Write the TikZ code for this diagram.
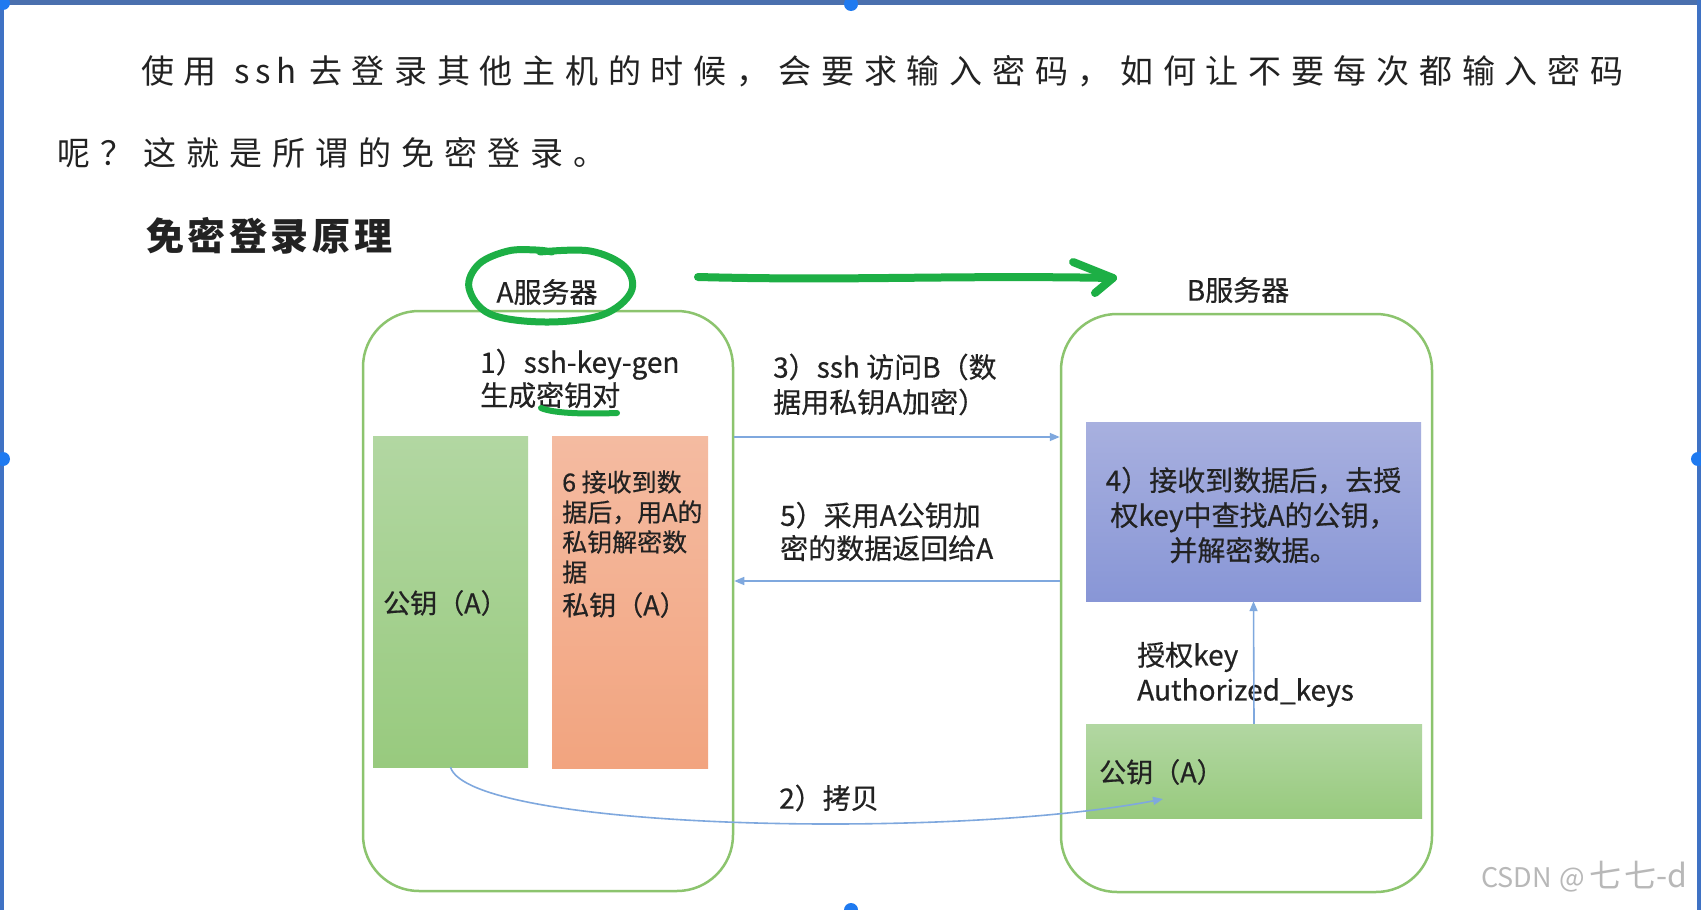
\documentclass[tikz,border=0pt]{standalone}
\usepackage{fontspec}
\setmainfont{Noto Sans CJK SC}
\newfontfamily\diagfont[FakeBold=0.5]{Noto Sans CJK SC}
\usetikzlibrary{arrows.meta}
\ExplSyntaxOn
\NewDocumentCommand\spreadchars{mm}{\tl_map_inline:nn {#2} {\makebox[#1][l]{##1}}}
\ExplSyntaxOff
\definecolor{boxgreen}{HTML}{8CC46E}
\definecolor{pengreen}{HTML}{1DAF45}
\definecolor{arrblue}{HTML}{7FA8DE}
\definecolor{gtop}{HTML}{B2D7A2}
\definecolor{gbot}{HTML}{98CA7E}
\definecolor{otop}{HTML}{F4BBA1}
\definecolor{obot}{HTML}{F2A47F}
\definecolor{btop}{HTML}{A8B0DF}
\definecolor{bbot}{HTML}{8896D6}
\definecolor{framedark}{HTML}{4A70AE}
\definecolor{frameblue}{HTML}{3F72C4}
\definecolor{handleblue}{HTML}{1F7AF0}
\definecolor{ink}{HTML}{222222}
\begin{document}
\begin{tikzpicture}[x=1pt,y=-1pt,
  server/.style={draw=boxgreen, line width=2.5pt, rounded corners=56pt, inner sep=0pt},
  keybox/.style={inner sep=0pt, shading=axis},
  lbl/.style={inner sep=0pt, text=ink, font=\diagfont\fontsize{28}{33}\selectfont, align=left},
  toptext/.style={inner sep=0pt, text=ink, anchor=west, font=\fontsize{33}{33}\selectfont},
  msg/.style={draw=arrblue, line width=1.6pt, -{Triangle[length=10pt,width=8pt]}},
  pen/.style={draw=pengreen, line width=8pt, line cap=round, line join=round},
  handle/.style={fill=handleblue}]
\path[use as bounding box, fill=white] (0,0) rectangle (1701,910);

% screenshot frame
\draw[framedark, line width=5pt] (0,2.5) -- (1701,2.5);
\draw[frameblue, line width=4pt] (2,0) -- (2,910);
\draw[frameblue, line width=4pt] (1699,0) -- (1699,910);
\fill[handle] (3,3) circle (7pt);
\fill[handle] (851,4) circle (7pt);
\fill[handle] (3,459) circle (7pt);
\fill[handle] (1698,459) circle (7pt);
\fill[handle] (851,910) circle (7pt);

% top paragraph
\node[toptext] (t1a) at (141,71) {\spreadchars{42.7pt}{使用}};
\node[toptext] (t1b) at (234,71) {\spreadchars{21pt}{ssh}};
\node[toptext] (t1c) at (309,71) {\spreadchars{42.7pt}{去登录其他主机的时候，会要求输入密码，如何让不要每次都输入密码}};
\node[toptext] (t2) at (57,153) {\spreadchars{43pt}{呢？这就是所谓的免密登录。}};
\node[toptext, font=\fontsize{38}{38}\selectfont\bfseries] (head) at (146,236) {\spreadchars{41.6pt}{免密登录原理}};

% servers
\node[server, minimum width=370pt, minimum height=580pt] (leftbox) at (548,601) {};
\node[server, minimum width=371pt, minimum height=578pt] (rightbox) at (1246.5,603) {};
\node[lbl] (labA) at (547,292) {A服务器};
\node[lbl] (labB) at (1238,290) {B服务器};

% key boxes
\node[keybox, top color=gtop, bottom color=gbot, minimum width=155pt, minimum height=331pt] (pubA) at (450.5,601.5) {};
\node[keybox, top color=otop, bottom color=obot, minimum width=156pt, minimum height=332pt] (privA) at (630,602) {};
\node[keybox, top color=btop, bottom color=bbot, minimum width=335pt, minimum height=179pt] (blue) at (1253.5,511.5) {};
\node[keybox, top color=gtop, bottom color=gbot, minimum width=336pt, minimum height=94pt] (pubB) at (1254,771) {};

% texts
\node[lbl, anchor=west, font=\diagfont\fontsize{27}{27}\selectfont] (pubAtxt) at (383,603) {公钥（A）};
\node[lbl, anchor=west, font=\diagfont\fontsize{25}{30}\selectfont] (privAtxt) at (562,527) {6 接收到数\\据后，用A的\\私钥解密数\\据};
\node[lbl, anchor=west, font=\diagfont\fontsize{27}{27}\selectfont] (privAname) at (562,605) {私钥（A）};
\node[lbl, anchor=west] (step1) at (480,378.5) {1）ssh-key-gen\\生成密钥对};
\node[lbl, anchor=west, font=\diagfont\fontsize{28}{35}\selectfont] (step3) at (773,384.5) {3）ssh 访问B（数\\据用私钥A加密）};
\node[lbl, anchor=west] (step5) at (780,531.5) {5）采用A公钥加\\密的数据返回给A};
\node[lbl, align=center, font=\diagfont\fontsize{28}{35}\selectfont] (step4) at (1253.5,515) {4）接收到数据后，去授\\权key中查找A的公钥，\\并解密数据。};
\node[lbl, anchor=west, font=\diagfont\fontsize{28}{35}\selectfont] (auth) at (1137,674.5) {授权key\\Authorized\_keys};
\node[lbl, anchor=west, font=\diagfont\fontsize{27}{27}\selectfont] (pubBtxt) at (1099,772) {公钥（A）};
\node[lbl] (step2) at (829,798) {2）拷贝};

% connectors
\draw[msg] (leftbox.east |- 0,437) -- (rightbox.west |- 0,437);
\draw[msg] (rightbox.west |- 0,581) -- (leftbox.east |- 0,581);
\draw[msg] (pubB.north) -- (blue.south);
\coordinate (copyEnd) at (1163,799);
\draw[msg] (pubA.south) .. controls (470,830) and (950,840) .. (copyEnd);

% hand-drawn green marks
\draw[pen, line width=7pt] plot[smooth, tension=0.6] coordinates {(540,252) (590,251) (625,267) (631,292) (602,315) (545,322) (490,314) (469,288) (479,264) (508,251) (536,250) (552,252)};
\draw[pen, line width=6pt] (541,408) .. controls (555,414) and (590,414) .. (617,413);
\draw[pen] (698,277) .. controls (850,281) and (950,275) .. (1113,278);
\draw[pen] (1073,262) -- (1113,278) -- (1095,293);

% watermark
\node[inner sep=0pt, anchor=west, text=black!28, font=\fontsize{27}{27}\selectfont] (wm) at (1481,877) {CSDN\hspace{8pt}@\hspace{4pt}{\fontsize{32}{32}\selectfont 七\hspace{3pt}七-d}};
\end{tikzpicture}
\end{document}
